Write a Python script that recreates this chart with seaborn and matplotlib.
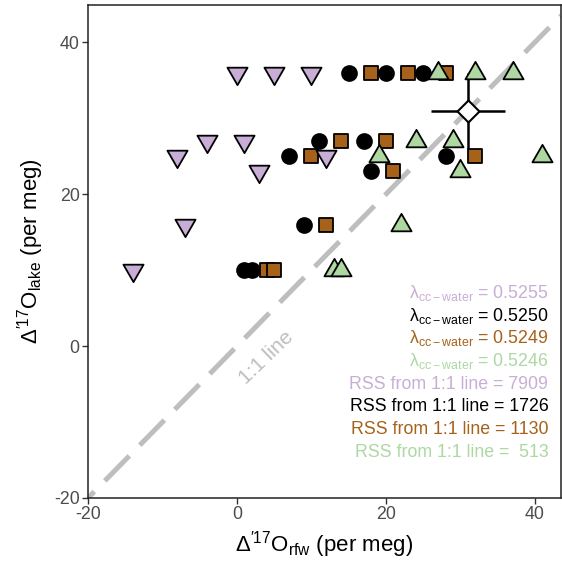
import matplotlib
matplotlib.use("Agg")
import matplotlib.pyplot as plt
from matplotlib.path import Path
import pandas as pd
import seaborn as sns

# Δ'17O of rain-fed water (x) and lake water (y), per meg, for four λ values
purple_x = [0, 5, 10, -8, -4, 1, 3, 12, -7, -14]
purple_y = [36, 36, 36, 25, 27, 27, 23, 25, 16, 10]
black_x = [15, 20, 25, 7, 11, 17, 28, 18, 9, 1, 2]
black_y = [36, 36, 36, 25, 27, 27, 25, 23, 16, 10, 10]
brown_x = [18, 23, 28, 10, 14, 20, 32, 21, 12, 4, 5]
brown_y = [36, 36, 36, 25, 27, 27, 25, 23, 16, 10, 10]
green_x = [27, 32, 37, 24, 29, 19, 41, 30, 22, 13, 14]
green_y = [36, 36, 36, 27, 27, 25, 25, 23, 16, 10, 10]

lambda_values = ["0.5255", "0.5250", "0.5249", "0.5246"]
rss_values = ["7909", "1726", "1130", " 513"]

# observed lake mean with its uncertainty
obs_rfw = 31
obs_lake = 31
obs_rfw_err = 5
obs_lake_err = 5

x_ticks = [-20, 0, 20, 40]
y_ticks = [-20, 0, 20, 40]

sns.set_theme(style="white")
plt.rcParams["font.family"] = ["Liberation Sans", "DejaVu Sans"]
plt.rcParams["mathtext.fontset"] = "custom"
plt.rcParams["mathtext.rm"] = "Liberation Sans"
plt.rcParams["mathtext.it"] = "Liberation Sans:italic"
plt.rcParams["mathtext.bf"] = "Liberation Sans:bold"
plt.rcParams["axes.unicode_minus"] = False

PURPLE = "#C8AED6"
BLACK = "#000000"
BROWN = "#A6611A"
GREEN = "#ADD8A2"
GREY = "#BEBEBE"

tri_up = Path([(0, 1), (-0.8660, -0.5), (0.8660, -0.5), (0, 1)],
              [Path.MOVETO, Path.LINETO, Path.LINETO, Path.CLOSEPOLY])
tri_down = Path([(0, -1), (-0.8660, 0.5), (0.8660, 0.5), (0, -1)],
                [Path.MOVETO, Path.LINETO, Path.LINETO, Path.CLOSEPOLY])
diamond = Path([(0, 1), (1, 0), (0, -1), (-1, 0), (0, 1)],
               [Path.MOVETO, Path.LINETO, Path.LINETO, Path.LINETO, Path.CLOSEPOLY])

fig = plt.figure(figsize=(5.62, 5.62), dpi=100)
ax = fig.add_axes([88 / 562, 64 / 562, 473 / 562, 493 / 562])

# 1:1 reference line
ax.axline((0, 0), slope=1, color=GREY, linewidth=3.6,
          linestyle=(5.2, (7, 3)), zorder=1)
ax.text(4, -1.5, "1:1 line", color=GREY, fontsize=15, rotation=44,
        ha="center", va="center", rotation_mode="anchor", zorder=1)

# observed value with error bars
ax.errorbar([obs_rfw], [obs_lake], xerr=[obs_rfw_err], yerr=[obs_lake_err],
            fmt="none", ecolor="black", elinewidth=1.8, capsize=0, zorder=2)

series = [
    (black_x, black_y, BLACK, "o", 115),
    (brown_x, brown_y, BROWN, "s", 92),
    (purple_x, purple_y, PURPLE, tri_down, 280),
    (green_x, green_y, GREEN, tri_up, 280),
]
for i, (xs, ys, col, mk, size) in enumerate(series):
    df = pd.DataFrame({"rfw": xs, "lake": ys})
    sns.scatterplot(data=df, x="rfw", y="lake", ax=ax, marker=mk, s=size,
                    color=col, edgecolor="black", linewidth=1.3,
                    zorder=3 + i, legend=False)

sns.scatterplot(x=[obs_rfw], y=[obs_lake], ax=ax, marker=diamond, s=250,
                color="white", edgecolor="black", linewidth=1.5, zorder=8,
                legend=False)

# λ and RSS annotations
text_cols = [PURPLE, BLACK, BROWN, GREEN]
ys_lab = [7, 4, 1, -2, -5, -8, -11, -14]
for k, (lam, col) in enumerate(zip(lambda_values, text_cols)):
    ax.text(41.8, ys_lab[k], r"$\mathregular{\lambda_{cc-water}}$ = " + lam,
            color=col, fontsize=12.8, ha="right", va="center")
for k, (r, col) in enumerate(zip(rss_values, text_cols)):
    ax.text(41.8, ys_lab[4 + k], "RSS from 1:1 line = " + r,
            color=col, fontsize=12.8, ha="right", va="center")

ax.set_xlim(-20, 43.5)
ax.set_ylim(-20, 44.9)
ax.set_xticks(x_ticks)
ax.set_yticks(y_ticks)
ax.tick_params(axis="both", direction="out", length=4, width=1, color="#333333",
               labelsize=12.8, labelcolor="#4D4D4D", pad=2,
               bottom=True, left=True)
for sp in ax.spines.values():
    sp.set_color("#222222")
    sp.set_linewidth(1.1)

ax.set_xlabel(r"$\mathregular{\Delta^{\prime 17}O_{rfw}}$ (per meg)", fontsize=16,
              color="black", labelpad=4)
ax.set_ylabel(r"$\mathregular{\Delta^{\prime 17}O_{lake}}$ (per meg)", fontsize=16,
              color="black", labelpad=6)

fig.savefig("out.png", dpi=100)
